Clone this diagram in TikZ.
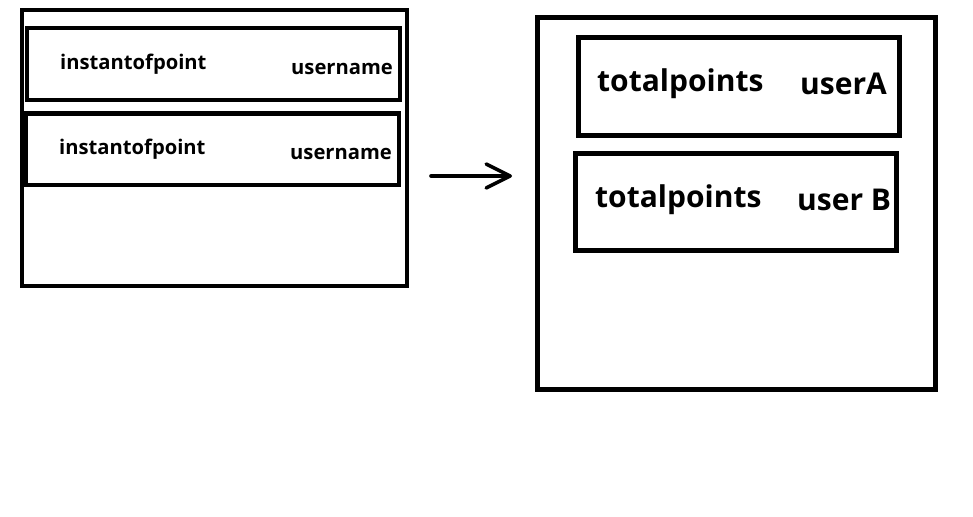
\documentclass[tikz,border=0pt]{standalone}
\usepackage{fontspec}
\setmainfont{Open Sans}
\usetikzlibrary{arrows.meta}
\tikzset{
  lbox/.style={draw=black, line width=4pt, inner sep=0pt, outer sep=0pt},
  rbox/.style={draw=black, line width=5pt, inner sep=0pt, outer sep=0pt},
  small/.style={anchor=base west, inner sep=0pt, font=\fontsize{20.2}{24}\selectfont\bfseries},
  big/.style={anchor=base west, inner sep=0pt, font=\fontsize{30}{36}\selectfont\bfseries},
  conn/.style={line width=3.6pt, line cap=round, -{Straight Barb[length=24pt,width=24pt,line width=3.6pt,round]}}
}
\begin{document}
\begin{tikzpicture}[x=1pt,y=-1pt]
\useasboundingbox[fill=white] (0,0) rectangle (973,516);
% left side
\node[lbox, minimum width=385pt, minimum height=275pt] (louter) at (214,148) {};
\node[lbox, minimum width=373pt, minimum height=71.5pt] (lbox1) at (213.5,64.25) {};
\node[lbox, minimum width=373pt, minimum height=71.5pt] (lbox2) at (212.5,149.25) {};
\node[small] (t1) at (60,70) {instantofpoint};
\node[small] (u1) at (291,74.5) {username};
\node[small] (t2) at (59,154.5) {instantofpoint};
\node[small] (u2) at (290,159) {username};
% right side
\node[rbox, minimum width=398pt, minimum height=371pt] (router) at (736.5,203.5) {};
\node[rbox, minimum width=321pt, minimum height=97.5pt] (rboxA) at (739,86.25) {};
\node[rbox, minimum width=321.5pt, minimum height=96.5pt] (rboxB) at (735.75,201.75) {};
\node[big] (tA) at (597,92) {totalpoints};
\node[big] (uA) at (800,95) {userA};
\node[big] (tB) at (595,207) {totalpoints};
\node[big] (uB) at (797,210) {user B};
% arrow
\coordinate (as) at (431,176);
\coordinate (ae) at (512,176);
\draw[conn] (as) -- (ae);
\end{tikzpicture}
\end{document}
